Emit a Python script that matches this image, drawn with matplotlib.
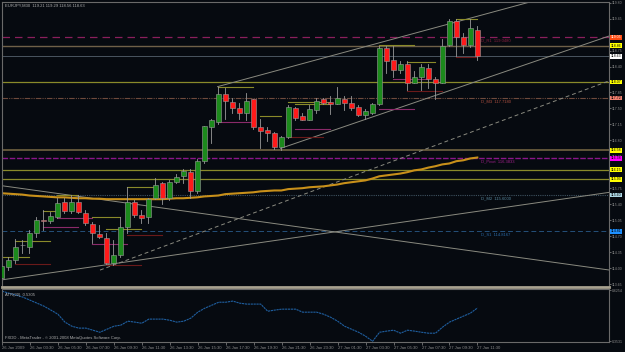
import numpy as np
import matplotlib
matplotlib.use("Agg")
from matplotlib import pyplot as plt
from matplotlib.patches import Rectangle

plt.rcParams['font.family'] = ['Liberation Sans', 'DejaVu Sans']

# EURJPY M30 candles, 26 Jan 01:30 .. 27 Jan 11:30
opens = [113.78, 114.03, 114.18, 114.51, 114.46, 114.77, 115.05, 115.03, 115.12, 115.44,
         115.25, 115.44, 115.20, 114.97, 114.75, 114.66, 114.11, 114.29, 114.90, 115.44,
         115.16, 115.12, 115.53, 115.86, 115.53, 115.88, 116.01, 116.10, 115.68, 116.34,
         117.08, 117.19, 117.80, 117.64, 117.51, 117.40, 117.69, 117.08, 117.03, 116.95,
         116.64, 116.86, 117.51, 117.32, 117.25, 117.47, 117.71, 117.64, 117.60, 117.71,
         117.62, 117.53, 117.36, 117.40, 117.60, 118.82, 118.56, 118.34, 118.47, 118.06,
         118.17, 118.38, 118.14, 118.06, 118.88, 119.41, 119.06, 118.88, 119.21]
highs = [114.09, 114.24, 114.64, 114.61, 114.83, 115.12, 115.27, 115.23, 115.53, 115.53,
         115.60, 115.60, 115.27, 115.01, 114.95, 114.77, 114.61, 115.12, 115.77, 115.49,
         115.27, 115.53, 115.97, 115.88, 115.92, 116.07, 116.18, 116.18, 116.38, 117.12,
         117.27, 117.97, 117.95, 117.73, 117.62, 117.82, 117.71, 117.27, 117.08, 116.97,
         116.90, 117.56, 117.53, 117.40, 117.56, 117.73, 117.73, 117.77, 117.97, 117.77,
         117.77, 117.56, 117.49, 117.62, 118.86, 118.86, 118.86, 118.54, 118.54, 118.32,
         118.47, 118.47, 118.17, 119.02, 119.45, 119.45, 119.15, 119.45, 119.29]
lows = [113.74, 113.96, 114.11, 114.33, 114.33, 114.68, 114.83, 114.99, 115.10, 115.20,
        115.20, 115.20, 114.95, 114.55, 114.66, 114.09, 114.07, 114.24, 114.77, 115.12,
        114.99, 114.99, 115.51, 115.40, 115.49, 115.86, 115.86, 115.53, 115.64, 116.29,
        116.73, 117.16, 117.27, 117.40, 117.27, 117.23, 117.05, 116.62, 116.79, 116.60,
        116.58, 116.84, 117.25, 117.23, 117.23, 117.40, 117.60, 117.38, 117.58, 117.45,
        117.45, 117.32, 117.27, 117.38, 117.56, 118.27, 118.17, 118.27, 117.90, 118.04,
        117.90, 117.93, 117.71, 118.04, 118.86, 118.65, 118.71, 118.84, 118.56]
closes = [114.05, 114.18, 114.46, 114.50, 114.77, 115.05, 115.03, 115.14, 115.42, 115.25,
          115.44, 115.23, 114.99, 114.77, 114.68, 114.11, 114.29, 114.90, 115.44, 115.16,
          115.09, 115.51, 115.83, 115.53, 115.88, 115.99, 116.12, 115.68, 116.34, 117.10,
          117.23, 117.80, 117.66, 117.51, 117.40, 117.66, 117.08, 117.01, 116.95, 116.64,
          116.86, 117.53, 117.29, 117.25, 117.49, 117.66, 117.62, 117.60, 117.73, 117.62,
          117.51, 117.36, 117.43, 117.60, 118.82, 118.54, 118.34, 118.47, 118.06, 118.17,
          118.41, 118.14, 118.06, 118.86, 119.41, 119.06, 118.88, 119.26, 118.63]

# slow moving average (gold line)
ma_line = [115.64, 115.63, 115.62, 115.61, 115.59, 115.58, 115.57, 115.56, 115.55, 115.55,
           115.54, 115.53, 115.53, 115.52, 115.52, 115.51, 115.51, 115.51, 115.51, 115.51,
           115.51, 115.51, 115.51, 115.51, 115.52, 115.53, 115.53, 115.54, 115.55, 115.57,
           115.58, 115.59, 115.62, 115.63, 115.64, 115.65, 115.66, 115.68, 115.69, 115.70,
           115.70, 115.73, 115.74, 115.75, 115.77, 115.78, 115.79, 115.81, 115.83, 115.86,
           115.88, 115.90, 115.92, 115.96, 116.01, 116.03, 116.05, 116.07, 116.10, 116.14,
           116.16, 116.20, 116.23, 116.27, 116.29, 116.34, 116.36, 116.40, 116.42]

atr = [0.620, 0.609, 0.599, 0.588, 0.572, 0.556, 0.540, 0.519, 0.497, 0.455,
       0.433, 0.423, 0.423, 0.412, 0.401, 0.417, 0.433, 0.439, 0.460, 0.455,
       0.449, 0.471, 0.471, 0.471, 0.465, 0.455, 0.460, 0.476, 0.508, 0.529,
       0.545, 0.561, 0.561, 0.567, 0.556, 0.551, 0.551, 0.551, 0.513, 0.519,
       0.524, 0.524, 0.524, 0.508, 0.508, 0.508, 0.497, 0.481, 0.460, 0.433,
       0.417, 0.401, 0.380, 0.353, 0.401, 0.407, 0.412, 0.396, 0.412, 0.407,
       0.401, 0.396, 0.396, 0.428, 0.455, 0.471, 0.487, 0.503, 0.5305]

time_ticks = [0, 4, 8, 12, 16, 20, 24, 28, 32, 36, 40, 44, 48, 52, 56, 60, 64, 68]
time_labels = ["26 Jan 2009", "26 Jan 03:30", "26 Jan 05:30", "26 Jan 07:30", "26 Jan 09:30",
               "26 Jan 11:30", "26 Jan 13:30", "26 Jan 15:30", "26 Jan 17:30", "26 Jan 19:30",
               "26 Jan 21:30", "26 Jan 23:30", "27 Jan 01:30", "27 Jan 03:30", "27 Jan 05:30",
               "27 Jan 07:30", "27 Jan 09:30", "27 Jan 11:30"]
price_ticks = [119.80, 119.45, 118.75, 118.40, 117.85, 117.50, 117.15, 116.80, 116.45,
               115.75, 115.40, 115.05, 114.70, 114.35, 114.00, 113.65]

# horizontal levels: price, colour, style, width
levels = [(119.05, "#8a1f5c", (0, (6, 4)), 0.9),
          (118.86, "#6e6048", "-", 1.0),
          (118.63, "#4a5560", "-", 0.7),
          (118.07, "#8a8a2a", "-", 0.9),
          (117.72, "#6e4a3c", (0, (5, 1, 1, 1, 1, 1)), 0.8),
          (116.58, "#7a6a45", "-", 1.1),
          (116.40, "#8a168a", (0, (4, 1.2)), 1.0),
          (116.15, "#8a8a2a", "-", 0.9),
          (115.94, "#8a8a2a", "-", 0.9),
          (115.60, "#3e5260", (0, (1, 1)), 0.8),
          (114.81, "#24507a", (0, (5, 3)), 0.7)]
# right axis price boxes: price, text, box colour, text colour
price_boxes = [(119.05, "119.05", "#ff4a10", "#ffffff"),
               (118.86, "118.86", "#ffff00", "#000000"),
               (118.63, "118.63", "#ffffff", "#000000"),
               (118.07, "118.07", "#ffff00", "#000000"),
               (117.72, "117.72", "#f08070", "#000000"),
               (116.58, "116.58", "#ffff00", "#000000"),
               (116.40, "116.38", "#ff00ff", "#000000"),
               (116.15, "116.15", "#ffff00", "#000000"),
               (115.94, "115.93", "#ffff00", "#000000"),
               (115.60, "115.60", "#add8e6", "#000000"),
               (114.81, "114.81", "#1e90ff", "#000000")]
level_names = [(119.05, "D_R1  119.0480", "#8a2040"),
               (117.72, "D_M3  117.7180", "#b05040"),
               (116.40, "D_Pivot  116.3833", "#a0208a"),
               (115.60, "D_M2  115.6000", "#5a8aa0"),
               (114.81, "D_S1  114.8167", "#2a6aa8")]

# trend lines: (bar0, price0, bar1, price1, style)
trend_lines = [(30.9, 117.97, 76.0, 119.84, "-"),
               (39.9, 116.62, 86.9, 119.08, "-"),
               (14.1, 113.96, 86.9, 118.10, (0, (4, 3))),
               (-0.2, 113.74, 86.9, 115.66, "-"),
               (-0.2, 115.81, 86.9, 113.96, "-")]

# short fractal / level segments: (bar0, bar1, price, colour)
segments = [(0, 3.9, 114.24, "#8a8a2a"), (2, 7, 114.59, "#8a8a2a"), (2, 7, 114.09, "#6a1a1a"),
            (6, 8, 115.25, "#8a8a2a"), (8, 11, 115.60, "#8a8a2a"), (8, 13, 115.09, "#8a2a6a"),
            (6, 11, 114.90, "#8a2a6a"), (13, 17, 115.12, "#8a8a2a"), (15, 20, 114.85, "#8a8a2a"),
            (13, 18, 114.53, "#8a2a6a"), (15, 20, 114.07, "#6a1a1a"), (18, 22, 115.77, "#8a8a2a"),
            (18, 23, 114.72, "#6a1a1a"), (31, 36, 117.97, "#8a8a2a"), (31, 36, 117.19, "#8a2a6a"),
            (37, 40, 117.32, "#8a8a2a"), (41, 47, 117.64, "#8a8a2a"), (42, 47, 117.58, "#8a8a2a"),
            (42, 47, 117.05, "#8a2a6a"), (41, 46, 116.86, "#6a1a1a"), (54, 59, 117.49, "#8a2a6a"),
            (54, 59, 118.88, "#8a8a2a"), (58, 62, 118.51, "#8a8a2a"), (56, 61, 118.14, "#8a2a6a"),
            (58, 63, 117.88, "#6a1a1a"), (65, 68, 119.45, "#8a8a2a"), (65, 68, 118.62, "#6a1a1a")]

bg = "#060a10"
W, H = 625, 352
fig = plt.figure(figsize=(6.25, 3.52), dpi=100, facecolor=bg)
ax = fig.add_axes([2 / W, 1 - 287 / H, 607 / W, 285 / H], facecolor=bg)
ax2 = fig.add_axes([2 / W, 1 - 342 / H, 607 / W, 53 / H], facecolor=bg)

xl = (0.1, 0.1 + 607 / 7)
n = len(opens)
x = np.arange(n)

for p, col, ls, lw in levels:
    ax.axhline(p, color=col, ls=ls, lw=lw, zorder=1)
for b0, p0, b1, p1, ls in trend_lines:
    ax.plot([b0, b1], [p0, p1], color="#8a8a80", ls=ls, lw=0.7, zorder=2)
for b0, b1, p, col in segments:
    ax.plot([b0, b1], [p, p], color=col, lw=0.8, zorder=2)

ax.plot(x, ma_line, color="#c8901a", lw=1.5, zorder=2)

for i in range(n):
    o, h, l, c = opens[i], highs[i], lows[i], closes[i]
    up = c >= o
    ax.plot([i, i], [l, h], color="#9a9a9a", lw=0.6, zorder=3)
    body = max(abs(c - o), 0.012)
    ax.add_patch(Rectangle((i - 0.36, min(o, c)), 0.72, body,
                           facecolor="#1c8a1c" if up else "#ff1a1a",
                           edgecolor="#9a9a9a", lw=0.4, zorder=4))

ax.set_xlim(*xl)
ax.set_ylim(113.59, 119.82)
ax.set_xticks([])
ax.yaxis.tick_right()
ax.set_yticks(price_ticks)
ax.set_yticklabels([f"{t:.2f}" for t in price_ticks])
ax.tick_params(axis="y", colors="#8c8c8c", labelsize=2.5, length=1.5, width=0.5, pad=0.6)

for p, s, bc, tc in price_boxes:
    ax.text(1.003, p, s, transform=ax.get_yaxis_transform(), fontsize=2.5, color=tc,
            va="center", ha="left", clip_on=False, zorder=6,
            bbox=dict(boxstyle="square,pad=0.12", fc=bc, ec="none"))
for p, s, col in level_names:
    ax.text(68.5, p - 0.03, s, fontsize=3, color=col, va="top", ha="left", zorder=5)

ax.text(0.005, 0.995, "EURJPY,M30  119.21 119.29 118.56 118.63", transform=ax.transAxes,
        fontsize=3, color="#b0b0b0", va="top", ha="left")

for sp in ax.spines.values():
    sp.set_color("#6a6a6a")
    sp.set_linewidth(0.8)
ax.spines["bottom"].set_color("#a8a290")
ax.spines["bottom"].set_linewidth(2)

# ATR pane
ax2.plot(x, atr, color="#1f5fa0", lw=0.8, ls=(0, (2, 0.6)))
ax2.set_xlim(*xl)
ax2.set_ylim(0.3531 - 0.004, 0.6254 + 0.006)
ax2.yaxis.tick_right()
ax2.set_yticks([0.3531, 0.6254])
ax2.set_yticklabels(["0.3531", "0.6254"])
ax2.tick_params(axis="y", colors="#8c8c8c", labelsize=2.5, length=1.5, width=0.5, pad=0.6)
ax2.set_xticks(time_ticks)
ax2.set_xticklabels(time_labels, ha="left")
ax2.tick_params(axis="x", colors="#8c8c8c", labelsize=3, length=2, width=0.5, pad=1)
ax2.text(0.005, 0.93, "ATR(20)  0.5305", transform=ax2.transAxes, fontsize=3,
         color="#b0b0b0", va="top", ha="left")
ax2.text(0.005, 0.04, "FXDD - MetaTrader - \u00a9 2001-2008 MetaQuotes Software Corp.",
         transform=ax2.transAxes, fontsize=3, color="#b0b0b0", va="bottom", ha="left")
for sp in ax2.spines.values():
    sp.set_color("#6a6a6a")
    sp.set_linewidth(0.8)

fig.savefig("out.png", dpi=100, facecolor=bg)
